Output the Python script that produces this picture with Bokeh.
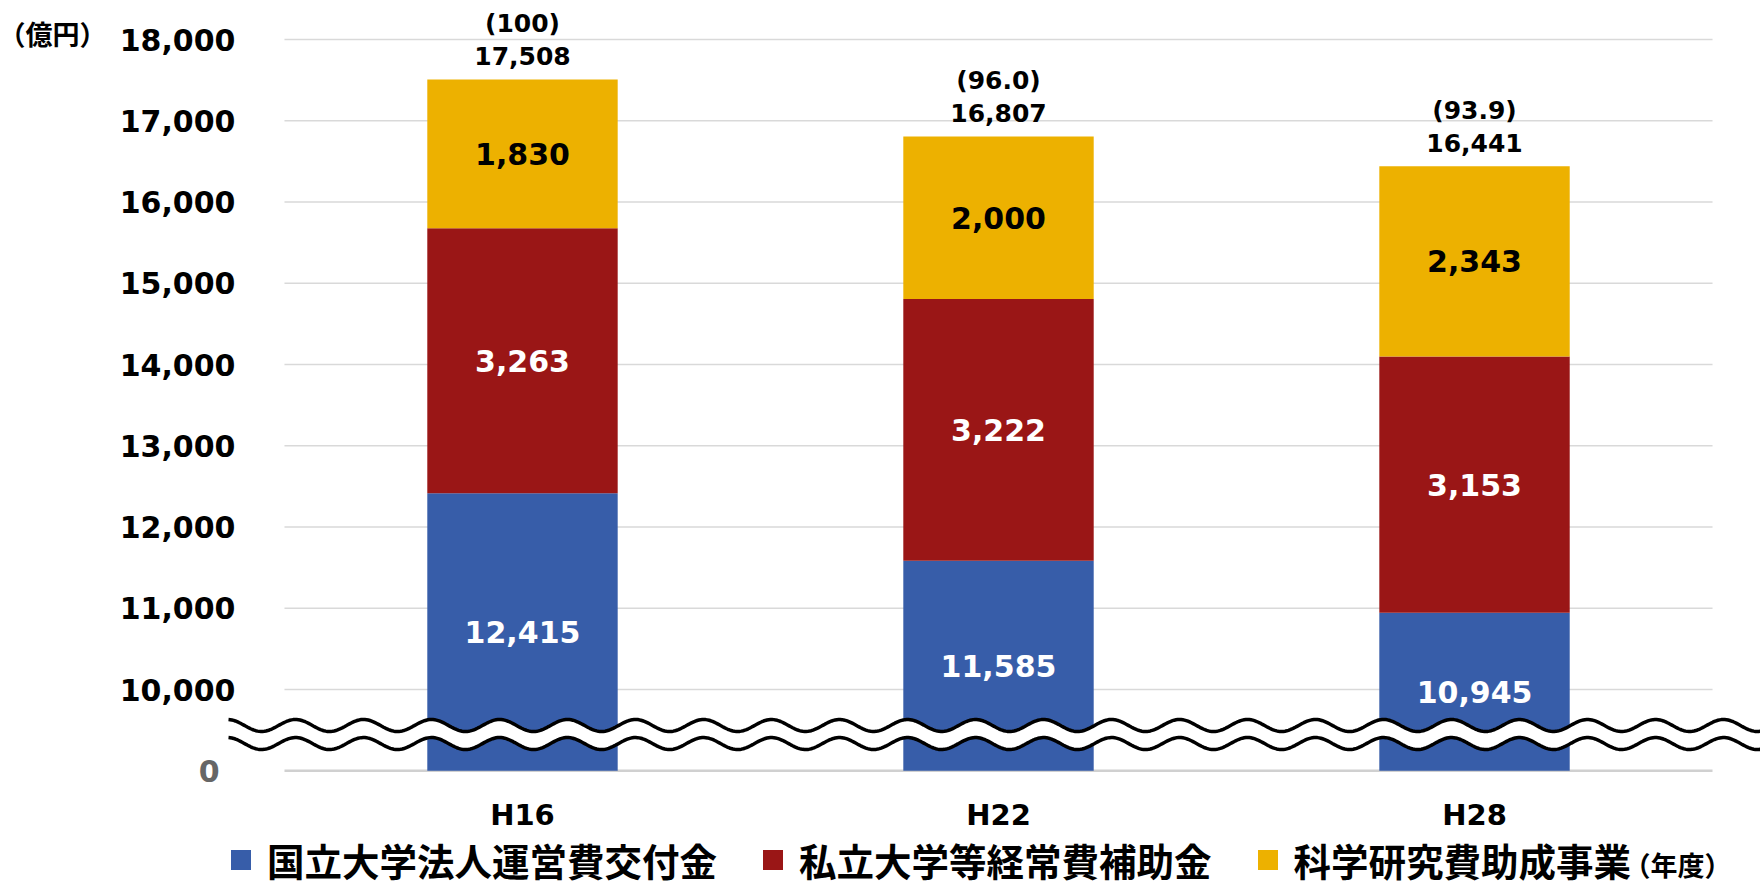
import numpy as np
from bokeh.plotting import figure
from bokeh.models import (Range1d, FixedTicker, NumeralTickFormatter, Label,
                          Legend, LegendItem, ColumnDataSource)
from bokeh.core.properties import value
from bokeh.embed import file_html
from bokeh.resources import INLINE

# ---------------- data ----------------
years = ["H16", "H22", "H28"]
national = [12415, 11585, 10945]   # 国立大学法人運営費交付金
private = [3263, 3222, 3153]       # 私立大学等経常費補助金
kaken = [1830, 2000, 2343]         # 科学研究費助成事業
index_labels = ["(100)", "(96.0)", "(93.9)"]
series_names = ["国立大学法人運営費交付金", "私立大学等経常費補助金", "科学研究費助成事業"]
y_ticks = [10000, 11000, 12000, 13000, 14000, 15000, 16000, 17000, 18000]
unit_label = "（億円）"
year_unit_label = "（年度）"
break_base = 9000          # axis position drawn as "0" below the break

# ---------------- style ----------------
colors = ["#375DA9", "#9A1616", "#EDB100"]
text_colors = ["white", "white", "black"]
NUM_FONT = "DejaVu Sans"
CJK_FONT = "Noto Sans CJK JP"
W, H = 1760, 891
X0, X1 = -1.0966, 2.6008
Y0, Y1 = 7514, 18480

x = list(range(len(years)))
top1 = [a for a in national]
top2 = [a + b for a, b in zip(national, private)]
top3 = [a + b + c for a, b, c in zip(national, private, kaken)]
bottom1 = [break_base] * len(years)

p = figure(width=W, height=H, x_range=Range1d(X0, X1), y_range=Range1d(Y0, Y1),
           output_backend="svg", toolbar_location=None,
           min_border_left=0, min_border_right=0, min_border_top=0, min_border_bottom=0)
p.outline_line_color = None
p.background_fill_color = "white"
p.border_fill_color = "white"
p.xgrid.visible = False
p.ygrid.visible = False

# gridlines
p.segment(x0=[-0.5] * len(y_ticks), x1=[2.5] * len(y_ticks), y0=y_ticks, y1=y_ticks,
          line_color="#D9D9D9", line_width=1.6)
p.segment(x0=[-0.5], x1=[2.5], y0=[break_base], y1=[break_base],
          line_color="#D0D0D0", line_width=2.5)

# bars
bw = 0.4
r1 = p.vbar(x=x, width=bw, bottom=bottom1, top=top1, fill_color=colors[0], line_color=None)
r2 = p.vbar(x=x, width=bw, bottom=top1, top=top2, fill_color=colors[1], line_color=None)
r3 = p.vbar(x=x, width=bw, bottom=top2, top=top3, fill_color=colors[2], line_color=None)

# segment labels
segs = [(bottom1, top1, national), (top1, top2, private), (top2, top3, kaken)]
for (b, t, v), tc in zip(segs, text_colors):
    src = ColumnDataSource(dict(x=x, y=[(bb + tt) / 2 for bb, tt in zip(b, t)],
                                t=[f"{vv:,}" for vv in v]))
    p.text(x="x", y="y", text="t", source=src, text_align="center", text_baseline="middle",
           text_font=value(NUM_FONT), text_font_style="bold", text_font_size="30px",
           text_color=tc)

# total labels
tot_src = ColumnDataSource(dict(x=x, y=top3, t=[f"{v:,}" for v in top3], idx=index_labels))
p.text(x="x", y="y", text="t", source=tot_src, y_offset=-23, text_align="center",
       text_baseline="middle", text_font=value(NUM_FONT), text_font_style="bold",
       text_font_size="25px", text_color="black")
p.text(x="x", y="y", text="idx", source=tot_src, y_offset=-56, text_align="center",
       text_baseline="middle", text_font=value(NUM_FONT), text_font_style="bold",
       text_font_size="25px", text_color="black")

# axis break (wavy lines)
xs = np.linspace(-0.6176, X1, 900)
period = 68 / 476.0
phase = -0.6197
amp = 74
upper = 9557 + amp * np.cos(2 * np.pi * (xs - phase) / period)
lower = 9335 + amp * np.cos(2 * np.pi * (xs - phase) / period)
p.varea(x=xs, y1=lower, y2=upper, fill_color="white")
p.line(xs, upper, line_color="black", line_width=3.5)
p.line(xs, lower, line_color="black", line_width=3.5)

# axes (labels pulled into the plot area)
p.yaxis.ticker = FixedTicker(ticks=y_ticks)
p.yaxis.formatter = NumeralTickFormatter(format="0,0")
p.yaxis.axis_line_color = None
p.yaxis.major_tick_line_color = None
p.yaxis.minor_tick_line_color = None
p.yaxis.major_tick_out = 0
p.yaxis.major_tick_in = 0
p.yaxis.major_label_standoff = -235
p.yaxis.major_label_text_font = NUM_FONT
p.yaxis.major_label_text_font_style = "bold"
p.yaxis.major_label_text_font_size = "30px"
p.yaxis.major_label_text_color = "black"

p.xaxis.ticker = FixedTicker(ticks=x)
p.xaxis.major_label_overrides = {i: y for i, y in zip(x, years)}
p.xaxis.axis_line_color = None
p.xaxis.major_tick_line_color = None
p.xaxis.minor_tick_line_color = None
p.xaxis.major_tick_out = 0
p.xaxis.major_tick_in = 0
p.xaxis.major_label_standoff = -94
p.xaxis.major_label_text_font = NUM_FONT
p.xaxis.major_label_text_font_style = "bold"
p.xaxis.major_label_text_font_size = "29px"
p.xaxis.major_label_text_color = "black"

# "0" below the break
p.add_layout(Label(x=219, y=break_base, x_units="screen", y_units="data", text="0",
                   text_align="right", text_baseline="middle", text_font=NUM_FONT,
                   text_font_style="bold", text_font_size="30px", text_color="#666666"))
# unit labels
p.add_layout(Label(x=52, y=H - 33, x_units="screen", y_units="screen", text=unit_label,
                   text_align="center", text_baseline="middle", text_font=CJK_FONT,
                   text_font_style="bold", text_font_size="27px", text_color="black"))
p.add_layout(Label(x=1677, y=H - 864, x_units="screen", y_units="screen", text=year_unit_label,
                   text_align="center", text_baseline="middle", text_font=CJK_FONT,
                   text_font_style="bold", text_font_size="27px", text_color="black"))

legend = Legend(items=[LegendItem(label=n, renderers=[r]) for n, r in zip(series_names, [r1, r2, r3])],
                orientation="horizontal", location=(228, 4), glyph_width=25, glyph_height=25,
                label_standoff=14, spacing=43, padding=0, margin=0, border_line_color=None,
                background_fill_alpha=0, label_text_font=CJK_FONT, label_text_font_style="bold",
                label_text_font_size="37.5px", label_text_color="black")
p.add_layout(legend)

open("out.html", "w").write(file_html(p, INLINE))
